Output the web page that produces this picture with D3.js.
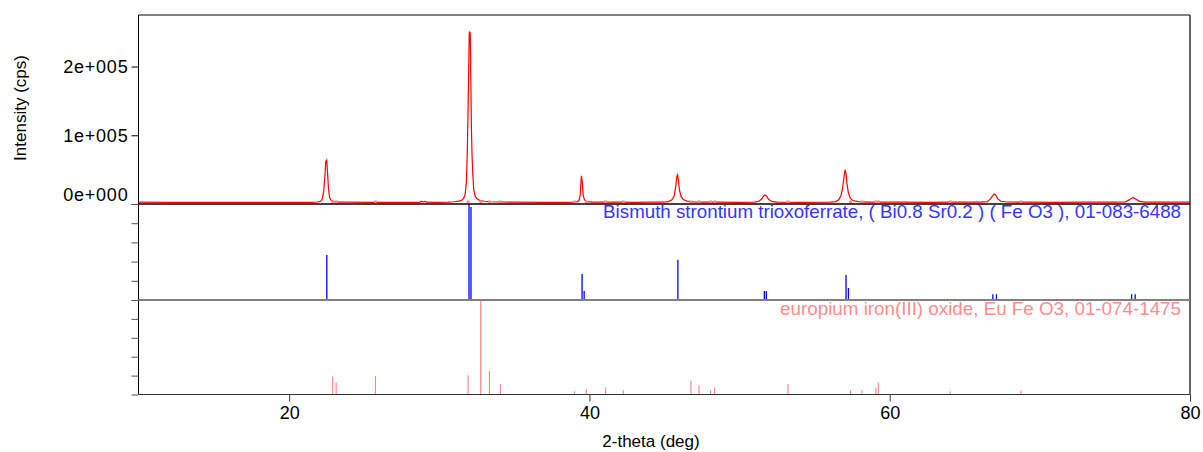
<!DOCTYPE html>
<html>
<head>
<meta charset="utf-8">
<script src="https://cdn.jsdelivr.net/npm/d3@7"></script>
<style>
  body { margin: 0; background: #fff; }
  svg text { font-family: "Liberation Sans", Arial, sans-serif; }
</style>
</head>
<body>
<script>
var xrdAngle = [10.0, 12.0, 14.0, 16.0, 18.0, 20.0, 21.5, 21.9, 22.1, 22.2, 22.3, 22.38, 22.44, 22.5, 22.56, 22.62, 22.7, 22.8, 23.0, 23.3,
  24.0, 25.5, 25.75, 26.0, 28.0, 28.7, 28.8, 28.9, 29.05, 29.15, 29.8, 30.6, 31.0, 31.3, 31.5, 31.62, 31.72, 31.8, 31.86, 31.92,
  31.96, 32.0, 32.06, 32.1, 32.14, 32.18, 32.24, 32.3, 32.4, 32.52, 32.7, 33.0, 33.4, 34.0, 35.0, 37.0, 38.5, 39.0, 39.2, 39.3,
  39.38, 39.43, 39.47, 39.52, 39.58, 39.66, 39.8, 40.2, 41.0, 41.3, 42.0, 43.0, 44.0, 44.9, 45.25, 45.5, 45.65, 45.75, 45.82, 45.87,
  45.93, 46.0, 46.1, 46.25, 46.5, 46.9, 47.5, 48.5, 50.0, 51.0, 51.3, 51.5, 51.62, 51.7, 51.8, 51.95, 52.15, 52.5, 54.0, 56.0,
  56.4, 56.6, 56.75, 56.85, 56.95, 57.02, 57.08, 57.15, 57.25, 57.38, 57.55, 57.9, 58.5, 60.0, 61.0, 62.5, 64.0, 66.0, 66.5, 66.7,
  66.85, 66.95, 67.05, 67.2, 67.4, 67.8, 69.0, 71.0, 73.0, 75.0, 75.7, 75.95, 76.15, 76.25, 76.4, 76.65, 77.0, 78.5, 80.0];
var xrdCounts = [2600, 2500, 2500, 2400, 2400, 2400, 2500, 2900, 4000, 7000, 18000, 40000, 62000, 64000, 45000, 22000, 9000, 5000, 3500, 2800,
  2600, 2500, 2700, 2500, 2500, 2500, 4000, 3000, 3800, 2600, 2500, 2800, 3300, 4200, 5500, 8000, 14000, 30000, 70000, 140000,
  200000, 251000, 248000, 180000, 110000, 72000, 40000, 20000, 11000, 7500, 5000, 4000, 3300, 2900, 2600, 2500, 2500, 2700, 3300, 5000,
  12000, 30000, 41000, 32000, 14000, 6500, 3500, 2700, 2900, 2600, 2700, 2500, 2600, 2700, 3500, 6000, 12000, 26000, 40000, 42500,
  34000, 20000, 11000, 6500, 4200, 3200, 2800, 2700, 2500, 2800, 4000, 8000, 12000, 13200, 11500, 6500, 3800, 2800, 2500, 2700,
  3500, 6000, 12000, 22000, 38000, 49800, 46000, 30000, 16000, 8500, 5000, 3400, 2800, 2600, 2800, 2500, 2600, 2700, 3500, 7000,
  12000, 14600, 13500, 7500, 4000, 2900, 2600, 2500, 2600, 2600, 3200, 6000, 9000, 9200, 7000, 3800, 2800, 2600, 2700];

// reference card 01-083-6488 (relative intensity %)
var bsfoAngle = [22.51, 31.98, 32.11, 39.51, 39.65, 45.89, 51.65, 51.78, 57.09, 57.25, 66.87, 67.11, 76.11, 76.35];
var bsfoRel   = [47, 100, 97, 27, 9.5, 42, 9.5, 9.5, 26, 12.5, 6, 6, 6, 6];

// reference card 01-074-1475 (relative intensity %)
var eufoAngle = [22.9, 23.13, 25.75, 31.92, 32.76, 33.34, 34.07, 39.0, 39.79, 41.08, 42.26, 46.76, 47.3, 48.07, 48.34,
  53.22, 57.39, 58.15, 59.08, 59.24, 64.03, 68.75];
var eufoRel   = [18.7, 12.7, 19.8, 20.5, 100, 25, 11, 3.5, 5.6, 7.8, 4.6, 14.9, 9.9, 4.6, 7.8,
  11, 4.3, 4.6, 7, 12.8, 3.5, 4.3];

var xTickValues = [20, 40, 60, 80];
var yTickValues = [0, 100000, 200000];
var refTickValues = [0, 20, 40, 60, 80, 100];

var bsfoLabel = "Bismuth strontium trioxoferrate, ( Bi0.8 Sr0.2 ) ( Fe O3 ), 01-083-6488";
var eufoLabel = "europium iron(III) oxide, Eu Fe O3, 01-074-1475";

window.onload = function(){
    var w = 1203, h = 452;
    var left = 138.5, right = 1190;
    var top = 15, sep1 = 204, sep2 = 300, bottom = 394.5;

    var svg = d3.select("body").append("svg")
        .attr("width", w)
        .attr("height", h);

    var x = d3.scaleLinear().domain([10, 80]).range([139, 1190]);
    var y = d3.scaleLinear().domain([0, 275000]).range([sep1, top]);
    var yB = d3.scaleLinear().domain([0, 100]).range([sep2, sep1]);
    var yE = d3.scaleLinear().domain([0, 100]).range([bottom, sep2]);

    // tick format like 2e+005
    var sci = function(v){
        if (v === 0) return "0e+000";
        var e = Math.floor(Math.log10(v));
        return Math.round(v / Math.pow(10, e)) + "e+" + String(e).padStart(3, "0");
    };

    // ---- measured pattern
    var pts = xrdAngle.map(function(a, i){ return [a, xrdCounts[i]]; });
    var line = d3.line()
        .x(function(d){ return x(d[0]); })
        .y(function(d){ return y(d[1]); });

    svg.append("path")
        .datum(pts)
        .attr("d", line)
        .attr("fill", "none")
        .attr("stroke", "#ff0000")
        .attr("stroke-width", 1.2);

    // peak markers of the EuFeO3 card on the baseline
    svg.selectAll(".emark")
        .data(eufoAngle)
        .enter().append("rect")
        .attr("class", "emark")
        .attr("x", function(d){ return x(d) - 1.5; })
        .attr("y", y(3000) - 1.5)
        .attr("width", 3)
        .attr("height", 3)
        .attr("fill", "#ff8a8a");

    // ---- stick patterns
    var bs = bsfoAngle.map(function(a, i){ return {a: a, r: bsfoRel[i]}; });
    svg.selectAll(".bstick")
        .data(bs)
        .enter().append("line")
        .attr("class", "bstick")
        .attr("x1", function(d){ return x(d.a); })
        .attr("x2", function(d){ return x(d.a); })
        .attr("y1", yB(0))
        .attr("y2", function(d){ return yB(d.r); })
        .attr("stroke", "#0000ff")
        .attr("stroke-width", 1.3);

    var es = eufoAngle.map(function(a, i){ return {a: a, r: eufoRel[i]}; });
    svg.selectAll(".estick")
        .data(es)
        .enter().append("line")
        .attr("class", "estick")
        .attr("x1", function(d){ return x(d.a); })
        .attr("x2", function(d){ return x(d.a); })
        .attr("y1", yE(0))
        .attr("y2", function(d){ return yE(d.r); })
        .attr("stroke", "#ff8080")
        .attr("stroke-width", 1.1);

    // ---- frame
    var frame = svg.append("g");
    frame.append("line").attr("x1", left).attr("x2", right).attr("y1", top).attr("y2", top)
        .attr("stroke", "#808080").attr("stroke-width", 2);
    frame.append("line").attr("x1", left).attr("x2", left).attr("y1", top).attr("y2", bottom)
        .attr("stroke", "#000").attr("stroke-width", 1);
    frame.append("line").attr("x1", right).attr("x2", right).attr("y1", top).attr("y2", bottom)
        .attr("stroke", "#333").attr("stroke-width", 1.5);
    frame.append("line").attr("x1", left).attr("x2", right).attr("y1", sep1).attr("y2", sep1)
        .attr("stroke", "#000").attr("stroke-width", 1.5);
    frame.append("line").attr("x1", left).attr("x2", right).attr("y1", sep2).attr("y2", sep2)
        .attr("stroke", "#808080").attr("stroke-width", 2);
    frame.append("line").attr("x1", left).attr("x2", right).attr("y1", bottom).attr("y2", bottom)
        .attr("stroke", "#333").attr("stroke-width", 1);

    // ---- axes
    var yAxis = svg.append("g")
        .attr("transform", "translate(" + left + ",0)")
        .call(d3.axisLeft(y).tickValues(yTickValues).tickFormat(sci).tickSize(7).tickPadding(3));
    yAxis.select(".domain").remove();
    yAxis.selectAll("text")
        .style("font-size", "18px")
        .style("letter-spacing", "0.8px")
        .attr("fill", "#000")
        .attr("dy", function(d){ return d === 0 ? "-0.18em" : "0.32em"; });

    [yB, yE].forEach(function(s){
        var g = svg.append("g")
            .attr("transform", "translate(" + left + ",0)")
            .call(d3.axisLeft(s).tickValues(refTickValues).tickFormat("").tickSize(7));
        g.select(".domain").remove();
        g.selectAll("line").attr("stroke", "#555");
    });

    var xAxis = svg.append("g")
        .attr("transform", "translate(0," + bottom + ")")
        .call(d3.axisBottom(x).tickValues(xTickValues).tickSize(7).tickPadding(5));
    xAxis.select(".domain").remove();
    xAxis.selectAll("line").attr("stroke", "#333");
    xAxis.selectAll("text").style("font-size", "18px").attr("fill", "#000");

    // ---- titles
    svg.append("text")
        .attr("x", 651)
        .attr("y", 447)
        .attr("text-anchor", "middle")
        .style("font-size", "17px")
        .text("2-theta (deg)");

    svg.append("text")
        .attr("transform", "translate(26,108) rotate(-90)")
        .attr("text-anchor", "middle")
        .style("font-size", "17px")
        .text("Intensity (cps)");

    // ---- card labels, fitted to their measured widths
    var fit = function(t, width){
        var n = t.node().getComputedTextLength();
        t.style("font-size", (16 * width / n).toFixed(2) + "px");
    };
    var bl = svg.append("text")
        .attr("x", 1181).attr("y", 218)
        .attr("text-anchor", "end")
        .attr("fill", "#3535ff")
        .style("font-size", "16px")
        .text(bsfoLabel);
    fit(bl, 578);

    var el = svg.append("text")
        .attr("x", 1181).attr("y", 315)
        .attr("text-anchor", "end")
        .attr("fill", "#ff8c8c")
        .style("font-size", "16px")
        .text(eufoLabel);
    fit(el, 401);
};
</script>
</body>
</html>
